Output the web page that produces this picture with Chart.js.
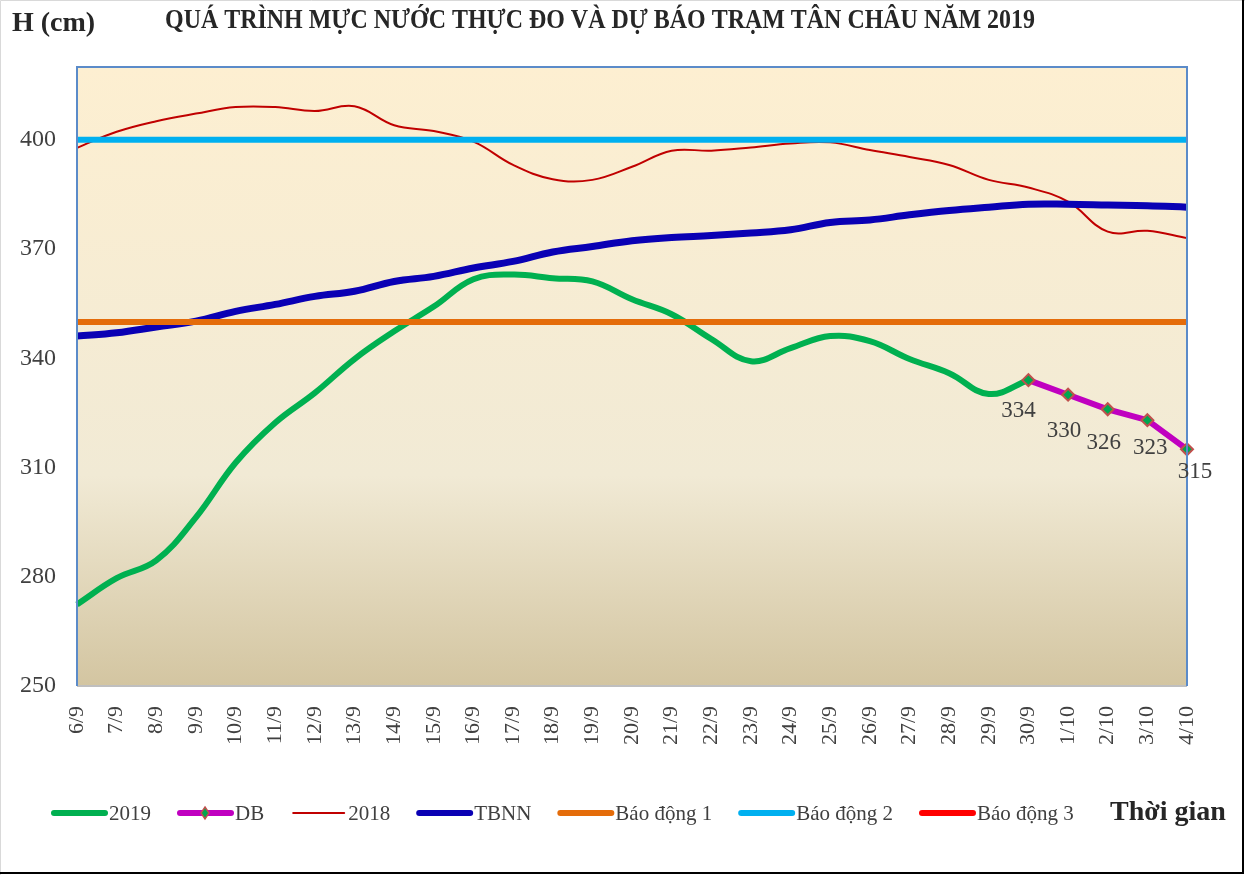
<!DOCTYPE html>
<html>
<head>
<meta charset="utf-8">
<script src="https://cdn.jsdelivr.net/npm/chart.js@4"></script>
<style>
  body { margin: 0; background: #ffffff; }
  canvas { display: block; }
</style>
</head>
<body>
<canvas id="grafico" width="1245" height="875"></canvas>
<script>
// ngày quan trắc / dự báo
var ngay = ["6/9", "7/9", "8/9", "9/9", "10/9", "11/9", "12/9", "13/9", "14/9", "15/9",
    "16/9", "17/9", "18/9", "19/9", "20/9", "21/9", "22/9", "23/9", "24/9", "25/9",
    "26/9", "27/9", "28/9", "29/9", "30/9", "1/10", "2/10", "3/10", "4/10"];

// mực nước thực đo 2019 (cm)
var muc2019 = [272.4, 279.6, 284.5, 296.3, 311.3, 322.3, 330.5, 339.8, 347.4, 354.2,
    361.7, 363.0, 362.0, 361.1, 356.2, 352.1, 345.3, 339.2, 342.8, 346.1,
    344.7, 339.8, 335.9, 330.2, 334];

// dự báo
var mucDB = [null, null, null, null, null, null, null, null, null, null,
    null, null, null, null, null, null, null, null, null, null,
    null, null, null, null, 334, 330, 326, 323, 315];

// năm 2018
var muc2018 = [397.8, 402.2, 405.1, 407.2, 409.0, 409.0, 407.9, 409.2, 404.0, 402.4,
    399.5, 393.1, 389.2, 389.0, 392.6, 397.0, 397.0, 397.9, 399.0, 399.3,
    397.2, 395.3, 393.1, 389.0, 386.9, 383.0, 374.8, 375.0, 373.0];

// trung bình nhiều năm
var mucTBNN = [346.1, 347.0, 348.6, 350.2, 352.9, 354.8, 357.0, 358.4, 361.1, 362.5,
    364.8, 366.6, 369.2, 370.7, 372.3, 373.2, 373.7, 374.4, 375.3, 377.3,
    378.0, 379.4, 380.6, 381.5, 382.3, 382.3, 382.1, 381.9, 381.5];

// mức báo động
var baoDong1 = 350;
var baoDong2 = 400;
var baoDong3 = 450;

var yTicks = [250, 280, 310, 340, 370, 400];
var yMin = 250;
var yMax = 420;

function hang(v) {
    return ngay.map(function () { return v; });
}

var FONT = "'Liberation Serif', 'Times New Roman', serif";

// vị trí nhãn số liệu dự báo (lệch so với điểm)
var lechNhan = [[-10, 31], [-4, 36], [-4, 34], [3, 28], [8, 23]];

var veThem = {
    id: "veThem",
    beforeDraw: function (chart) {
        var c = chart.ctx;
        var a = chart.chartArea;
        c.save();
        c.fillStyle = "#ffffff";
        c.fillRect(0, 0, chart.width, chart.height);
        var g = c.createLinearGradient(0, a.top, 0, a.bottom);
        g.addColorStop(0, "#fdefd1");
        g.addColorStop(0.66, "#f1ead5");
        g.addColorStop(1, "#d3c5a1");
        c.fillStyle = g;
        c.fillRect(a.left, a.top, a.right - a.left, a.bottom - a.top);
        c.restore();
    },
    afterDatasetsDraw: function (chart) {
        var c = chart.ctx;
        var a = chart.chartArea;
        c.save();
        // khung
        c.strokeStyle = "#bfbfbf";
        c.lineWidth = 2;
        c.beginPath();
        c.moveTo(a.left, a.bottom);
        c.lineTo(a.right, a.bottom);
        c.stroke();
        c.strokeStyle = "#5b8bc9";
        c.beginPath();
        c.moveTo(a.left, a.bottom);
        c.lineTo(a.left, a.top);
        c.lineTo(a.right, a.top);
        c.lineTo(a.right, a.bottom);
        c.stroke();

        // nhãn dự báo
        var meta = chart.getDatasetMeta(1);
        c.fillStyle = "#404040";
        c.font = "23px " + FONT;
        c.textAlign = "center";
        c.textBaseline = "middle";
        var k = 0;
        for (var i = 0; i < mucDB.length; i++) {
            if (mucDB[i] === null) continue;
            var p = meta.data[i];
            var d = lechNhan[k] || [0, 30];
            c.fillText(String(mucDB[i]), p.x + d[0], p.y + d[1]);
            k++;
        }
        c.restore();
    },
    afterDraw: function (chart) {
        var c = chart.ctx;
        c.save();
        // tiêu đề
        c.fillStyle = "#262626";
        c.textBaseline = "alphabetic";
        c.textAlign = "left";
        c.font = "bold 28px " + FONT;
        c.fillText("H (cm)", 12, 31);
        c.textAlign = "center";
        c.font = "bold 27px " + FONT;
        c.fillText("QUÁ TRÌNH MỰC NƯỚC THỰC ĐO VÀ DỰ BÁO TRẠM TÂN CHÂU NĂM 2019", 600, 28, 870);

        // chú giải
        var x = 52;
        var y = 813;
        c.font = "21px " + FONT;
        c.textAlign = "left";
        c.textBaseline = "middle";
        chart.data.datasets.forEach(function (ds, idx) {
            c.strokeStyle = ds.borderColor;
            c.lineWidth = Math.min(ds.borderWidth, 6);
            c.lineCap = "round";
            c.beginPath();
            c.moveTo(x + 2, y);
            c.lineTo(x + 53, y);
            c.stroke();
            if (idx === 1) {
                c.fillStyle = ds.pointBackgroundColor;
                c.strokeStyle = ds.pointBorderColor;
                c.lineWidth = 1.5;
                c.beginPath();
                c.moveTo(x + 27, y - 6);
                c.lineTo(x + 31, y);
                c.lineTo(x + 27, y + 6);
                c.lineTo(x + 23, y);
                c.closePath();
                c.fill();
                c.stroke();
            }
            c.fillStyle = "#404040";
            c.fillText(ds.label, x + 57, y + 1);
            x = x + 57 + c.measureText(ds.label).width + 27;
        });
        c.fillStyle = "#262626";
        c.font = "bold 28px " + FONT;
        c.fillText("Thời gian", 1110, y);

        // viền ngoài
        c.strokeStyle = "#d9d9d9";
        c.lineWidth = 1;
        c.beginPath();
        c.moveTo(0.5, chart.height);
        c.lineTo(0.5, 0.5);
        c.lineTo(chart.width, 0.5);
        c.stroke();
        c.strokeStyle = "#000000";
        c.lineWidth = 2;
        c.beginPath();
        c.moveTo(1243, 0);
        c.lineTo(1243, 873);
        c.lineTo(0, 873);
        c.stroke();
        c.restore();
    }
};

var ctx = document.getElementById("grafico").getContext("2d");

new Chart(ctx, {
    type: "line",
    data: {
        labels: ngay,
        datasets: [
            { label: "2019", data: muc2019, borderColor: "#00b050", borderWidth: 6, tension: 0.4, pointRadius: 0, order: 7 },
            { label: "DB", data: mucDB, borderColor: "#c000c0", borderWidth: 6, tension: 0, pointStyle: "rectRot", pointRadius: 6,
              pointBackgroundColor: "#00a650", pointBorderColor: "#c0504d", pointBorderWidth: 2, order: 6 },
            { label: "2018", data: muc2018, borderColor: "#c00000", borderWidth: 2, tension: 0.4, pointRadius: 0, order: 5 },
            { label: "TBNN", data: mucTBNN, borderColor: "#0a00b4", borderWidth: 7, tension: 0.4, pointRadius: 0, order: 4 },
            { label: "Báo động 1", data: hang(baoDong1), borderColor: "#e46c0a", borderWidth: 6, pointRadius: 0, order: 3 },
            { label: "Báo động 2", data: hang(baoDong2), borderColor: "#00b0f0", borderWidth: 6, pointRadius: 0, order: 2 },
            { label: "Báo động 3", data: hang(baoDong3), borderColor: "#ff0000", borderWidth: 6, pointRadius: 0, order: 1 }
        ]
    },
    options: {
        responsive: false,
        animation: false,
        devicePixelRatio: 1,
        layout: { padding: { top: 67, right: 58, bottom: 0, left: 0 } },
        scales: {
            x: {
                offset: false,
                grid: { display: false },
                border: { display: false },
                ticks: {
                    autoSkip: false,
                    maxRotation: 90,
                    minRotation: 90,
                    padding: 12,
                    color: "#404040",
                    font: { family: FONT, size: 22 }
                },
                afterFit: function (scale) { scale.height = 189; }
            },
            y: {
                min: yMin,
                max: yMax,
                grid: { display: false },
                border: { display: false },
                ticks: {
                    padding: 13,
                    color: "#404040",
                    font: { family: FONT, size: 24 }
                },
                afterBuildTicks: function (scale) {
                    scale.ticks = yTicks.map(function (v) { return { value: v }; });
                },
                afterFit: function (scale) { scale.width = 77; }
            }
        },
        plugins: {
            legend: { display: false },
            tooltip: { enabled: false },
            title: { display: false }
        }
    },
    plugins: [veThem]
});
</script>
</body>
</html>
